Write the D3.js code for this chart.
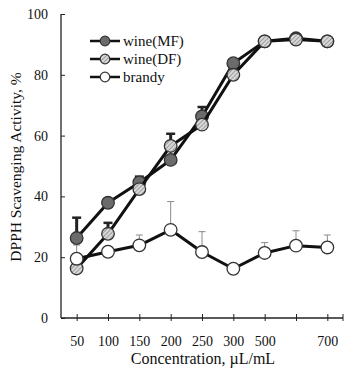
<!DOCTYPE html>
<html><head><meta charset="utf-8">
<script src="https://cdn.jsdelivr.net/npm/d3@7"></script>
<style>body{margin:0;background:#fff}svg{display:block}svg text{font-family:'Liberation Serif','Times New Roman',Times,'DejaVu Serif',serif !important;fill:#111}</style>
</head><body><svg id="c" width="360" height="371"></svg>
<script>
const categories = ["50","100","150","200","250","300","500","600","700"];
const tickLabels = ["50","100","150","200","250","300","500","","700"];
const yTicks = [0,20,40,60,80,100];
const mfValues = [26.3,37.9,44.6,52.0,66.3,83.8,91.0,92.0,91.0];
const mfErrTop = [33,null,46.5,null,69.4,null,null,null,null];
const dfValues = [16.3,27.7,42.4,56.6,63.6,80.0,91.0,91.6,91.0];
const dfErrTop = [null,31.3,null,60.6,null,null,null,null,null];
const brValues = [19.5,21.8,23.9,29.0,21.7,16.2,21.4,23.8,23.2];
const brErrTop = [24,null,27.3,38.3,28.4,17.8,24.8,28.7,27.3];
const seriesNames = ["wine(MF)","wine(DF)","brandy"];

const FONT = "'Liberation Serif','Times New Roman',Times,'DejaVu Serif',serif";
const svg = d3.select("#c");
const defs = svg.append("defs");
const pat = defs.append("pattern").attr("id","hatch").attr("patternUnits","userSpaceOnUse")
  .attr("width",3).attr("height",3).attr("patternTransform","rotate(45)");
pat.append("rect").attr("width",3).attr("height",3).attr("fill","#d9d9d9");
pat.append("line").attr("x1",0).attr("y1",0).attr("x2",0).attr("y2",3).attr("stroke","#7a7a7a").attr("stroke-width",1.3);

const x = d3.scalePoint().domain(categories).range([61,343]).padding(0.5);
const y = d3.scaleLinear().domain([0,100]).range([318,14]);

// axes
const gx = svg.append("g").attr("transform","translate(0,318)")
  .call(d3.axisBottom(x).tickSizeInner(-4).tickSizeOuter(0).tickFormat((d,i)=>tickLabels[i]));
gx.attr("font-family",FONT);
gx.select(".domain").remove();
gx.selectAll(".tick line").attr("y1",3).attr("stroke","#222");
gx.selectAll(".tick text").attr("y",18).attr("font-size","14px").style("font-family",FONT).attr("fill","#111");
svg.append("line").attr("x1",61).attr("x2",343).attr("y1",318).attr("y2",318).attr("stroke","#222").attr("stroke-width",1.3);
svg.append("line").attr("x1",343).attr("x2",343).attr("y1",314).attr("y2",321).attr("stroke","#222");

const gy = svg.append("g").attr("transform","translate(61,0)")
  .call(d3.axisLeft(y).tickValues(yTicks).tickSizeInner(-4).tickSizeOuter(0));
gy.attr("font-family",FONT);
gy.select(".domain").remove();
gy.selectAll(".tick line").attr("stroke","#222");
gy.selectAll(".tick text").attr("x",-13).attr("font-size","14px").style("font-family",FONT).attr("fill","#111");
svg.append("line").attr("x1",61).attr("x2",61).attr("y1",14).attr("y2",318).attr("stroke","#222").attr("stroke-width",1.3);

svg.append("text").attr("x",203).attr("y",364).attr("text-anchor","middle").attr("font-size","16px").style("font-family",FONT).text("Concentration, \u00b5L/mL");
svg.append("text").attr("transform","translate(21,167) rotate(-90)").attr("text-anchor","middle").attr("font-size","15.5px").style("font-family",FONT).text("DPPH Scavenging Activity, %");

const series = [
  {name:seriesNames[0], vals:mfValues, err:mfErrTop, fill:"#6b6b6b", thickErr:true},
  {name:seriesNames[1], vals:dfValues, err:dfErrTop, fill:"url(#hatch)", thickErr:true},
  {name:seriesNames[2], vals:brValues, err:brErrTop, fill:"#fff", thickErr:false}
];
const line = d3.line().x((d,i)=>x(categories[i])).y(d=>y(d));

series.forEach(s=>{
  const g = svg.append("g");
  s.err.forEach((e,i)=>{
    if(e==null) return;
    const cx = x(categories[i]);
    const col = s.thickErr ? "#222" : "#8a8a8a";
    const w = s.thickErr ? 3 : 1;
    const cap = s.thickErr ? 4.5 : 3.5;
    g.append("line").attr("x1",cx).attr("x2",cx).attr("y1",y(s.vals[i])).attr("y2",y(e)).attr("stroke",col).attr("stroke-width",w);
    g.append("line").attr("x1",cx-cap).attr("x2",cx+cap).attr("y1",y(e)).attr("y2",y(e)).attr("stroke",col).attr("stroke-width",s.thickErr?2.5:1);
  });
});
series.forEach(s=>{
  const g = svg.append("g");
  g.append("path").datum(s.vals).attr("d",line).attr("fill","none").attr("stroke","#111").attr("stroke-width",3).attr("stroke-linejoin","round");
  g.selectAll("circle").data(s.vals).join("circle")
    .attr("cx",(d,i)=>x(categories[i])).attr("cy",d=>y(d)).attr("r",6.3)
    .attr("fill",s.fill).attr("stroke","#333").attr("stroke-width",1.3);
});

// legend
const leg = svg.append("g");
series.forEach((s,i)=>{
  const yy = 41 + i*18;
  leg.append("line").attr("x1",90).attr("x2",120).attr("y1",yy).attr("y2",yy).attr("stroke","#111").attr("stroke-width",2.5);
  leg.append("circle").attr("cx",105).attr("cy",yy).attr("r",4.8).attr("fill",s.fill).attr("stroke","#333").attr("stroke-width",1.2);
  leg.append("text").attr("x",123).attr("y",yy+5).attr("font-size","15px").style("font-family",FONT).text(s.name);
});
</script></body></html>
